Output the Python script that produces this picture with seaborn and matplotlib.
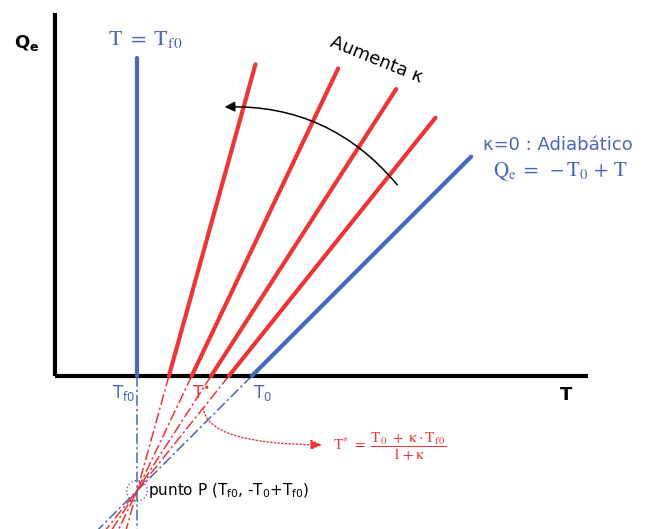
import numpy as np
import pandas as pd
import matplotlib
matplotlib.use('Agg')
import matplotlib.pyplot as plt
import seaborn as sns
from matplotlib.patches import FancyArrowPatch, Circle

# parametros del esquema
T0 = 4.8
Tf0 = 2.0
kappas = [0.25, 0.55, 1.1, 2.6]
red_top_qe = [6.3, 7.0, 7.5, 7.6]
adiab_top_qe = 5.35
tf0_top_qe = 7.75
qe_bottom = -3.9

BLUE = '#4867bd'
RED = '#ee3535'


def t_star(k):
    return (T0 + k * Tf0) / (1 + k)


# tramos solidos (Qe >= 0) y prolongaciones punteadas (Qe < 0)
solid_rows = []
dash_rows = []
colors = {}
for k, top in zip(kappas, red_top_qe):
    name = f'k={k}'
    ts = t_star(k)
    solid_rows += [(name, ts, 0.0), (name, ts + top / (1 + k), top)]
    dash_rows += [(name, ts, 0.0), (name, ts + qe_bottom / (1 + k), qe_bottom)]
    colors[name] = RED
solid_rows += [('adiab', T0, 0.0), ('adiab', T0 + adiab_top_qe, adiab_top_qe)]
dash_rows += [('adiab', T0, 0.0), ('adiab', T0 + qe_bottom, qe_bottom)]
colors['adiab'] = BLUE
solid_rows += [('tf0', Tf0, 0.0), ('tf0', Tf0, tf0_top_qe)]
dash_rows += [('tf0', Tf0, 0.0), ('tf0', Tf0, qe_bottom)]
colors['tf0'] = BLUE

solid = pd.DataFrame(solid_rows, columns=['curve', 'T', 'Qe'])
dashed = pd.DataFrame(dash_rows, columns=['curve', 'T', 'Qe'])

sns.set_style('white')
plt.rcParams['text.color'] = 'black'
fig = plt.figure(figsize=(6.57, 5.29), dpi=100)
ax = fig.add_axes([0, 0, 1, 1])
ax.set_xlim(-55 / 41, 602 / 41)
ax.set_ylim(-153 / 41, 376 / 41)
ax.axis('off')

# ejes
ax.plot([0, 0], [0, 8.85], color='black', lw=3, solid_capstyle='butt', zorder=3)
ax.plot([0, 13.0], [0, 0], color='black', lw=3, solid_capstyle='butt', zorder=3)

sns.lineplot(data=solid, x='T', y='Qe', hue='curve', palette=colors, units='curve',
             estimator=None, sort=False, lw=3, legend=False, ax=ax, zorder=4)
for name, grp in dashed.groupby('curve'):
    sns.lineplot(data=grp, x='T', y='Qe', color=colors[name], estimator=None, sort=False,
                 lw=1.1, linestyle=(0, (7, 2, 1.5, 2)), legend=False, ax=ax, zorder=2)
ax.set_xlabel('')
ax.set_ylabel('')

# punto P
ax.add_patch(Circle((Tf0, Tf0 - T0), 0.25, fill=False, ec=BLUE, lw=1, ls=':', zorder=5))
ax.text(Tf0 + 0.27, Tf0 - T0, r'punto P (T$_{\mathrm{f0}}$, -T$_{\mathrm{0}}$+T$_{\mathrm{f0}}$)',
        fontsize=11, color='black', va='center', ha='left', math_fontfamily='dejavusans')

# textos de ejes
ax.text(-0.68, 8.12, r'$\mathbf{Q_e}$', fontsize=13, color='black', ha='center',
        va='center', math_fontfamily='dejavusans')
ax.text(12.46, -0.46, 'T', fontsize=13, fontweight='bold', color='black', ha='center',
        va='center')
ax.text(Tf0 - 0.34, -0.41, r'T$_{\mathrm{f0}}$', fontsize=12, color=BLUE, ha='center',
        va='center', math_fontfamily='dejavusans')
ax.text(T0 + 0.25, -0.41, r'T$_{\mathrm{0}}$', fontsize=12, color=BLUE, ha='center',
        va='center', math_fontfamily='dejavusans')
ax.text(3.55, -0.41, r'T$^{\bullet}$', fontsize=12, color=RED, ha='center', va='center',
        math_fontfamily='dejavusans')

ax.text(2.2, 8.2, r'$\mathrm{T\ =\ T_{f0}}$', fontsize=16, color=BLUE, ha='center',
        va='center', math_fontfamily='stix')
ax.text(10.44, 5.63, 'κ=0 : Adiabático', fontsize=13, color=BLUE, ha='left', va='center')
ax.text(10.68, 4.98, r'$\mathrm{Q_e\ =\ -T_0\,+\,T}$', fontsize=15, color=BLUE, ha='left',
        va='center', math_fontfamily='stix')
ax.text(7.83, 7.71, 'Aumenta κ', fontsize=13, color='black', rotation=-22, ha='center',
        va='center')

# flecha curva
ax.add_patch(FancyArrowPatch((8.39, 4.61), (4.07, 6.56), connectionstyle='arc3,rad=0.25',
                             arrowstyle='-|>,head_length=6,head_width=3', color='black',
                             lw=1.1, zorder=6))

# flecha punteada a la formula
ax.add_patch(FancyArrowPatch((3.61, -0.71), (6.59, -1.68),
                             connectionstyle='angle3,angleA=-90,angleB=0',
                             arrowstyle='-|>,head_length=7,head_width=3', color=RED,
                             lw=1.0, ls=':', zorder=6))
ax.text(6.78, -1.73, r'$\mathrm{T^{*}\ =\ \dfrac{T_0\ +\ \kappa\cdot T_{f0}}{1+\kappa}}$',
        fontsize=11, color=RED, ha='left', va='center', math_fontfamily='stix')

fig.savefig('out.png', dpi=100)
